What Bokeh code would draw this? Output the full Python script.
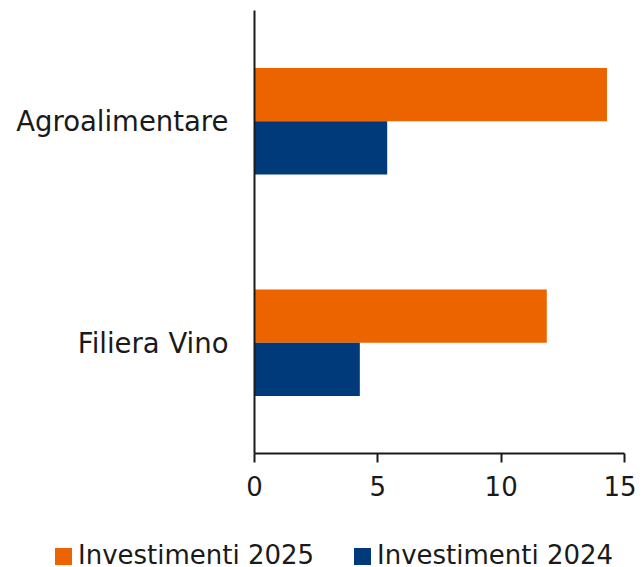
from bokeh.plotting import figure
from bokeh.models import ColumnDataSource, FactorRange, Range1d, Div
from bokeh.layouts import column
from bokeh.transform import dodge
from bokeh.embed import file_html
from bokeh.resources import INLINE

categories = ["Filiera Vino", "Agroalimentare"]
inv_2025 = [11.85, 14.29]
inv_2024 = [4.27, 5.38]
series_labels = ["Investimenti 2025", "Investimenti 2024"]
x_ticks = [0, 5, 10, 15]

ORANGE = "#EC6400"
BLUE = "#003A7A"
FONT = "DejaVu Sans"
FS = "26px"

src = ColumnDataSource(dict(cat=categories, v25=inv_2025, v24=inv_2024))

p = figure(
    y_range=FactorRange(factors=categories),
    x_range=Range1d(0, 15),
    frame_width=370, frame_height=443,
    min_border_left=254, min_border_right=12,
    min_border_top=10, min_border_bottom=64,
    output_backend="svg", toolbar_location=None,
)
p.outline_line_color = None
p.background_fill_color = "white"
p.grid.visible = False

p.hbar(y=dodge("cat", 0.12, range=p.y_range), right="v25", left=0, height=0.24,
       source=src, fill_color=ORANGE, line_color=None)
p.hbar(y=dodge("cat", -0.12, range=p.y_range), right="v24", left=0, height=0.24,
       source=src, fill_color=BLUE, line_color=None)

xa = p.xaxis[0]
xa.ticker = x_ticks
xa.axis_line_width = 2
xa.axis_line_color = "#1a1a1a"
xa.major_tick_line_width = 2
xa.major_tick_line_color = "#1a1a1a"
xa.major_tick_out = 9
xa.major_tick_in = 0
xa.minor_tick_line_color = None
xa.major_label_text_font = FONT
xa.major_label_text_font_size = FS
xa.major_label_text_color = "#1a1a1a"
xa.major_label_standoff = 13

ya = p.yaxis[0]
ya.axis_line_width = 2
ya.axis_line_color = "#1a1a1a"
ya.major_tick_line_color = None
ya.major_tick_out = 0
ya.major_tick_in = 0
ya.minor_tick_line_color = None
ya.major_label_text_font = FONT
ya.major_label_text_font_size = "27.5px"
ya.major_label_text_color = "#1a1a1a"
ya.major_label_standoff = 26

# legend strip below the chart (horizontal legend)
legend_colors = [ORANGE, BLUE]
item_left = [55, 354]
parts = []
for lab, col, x0 in zip(series_labels, legend_colors, item_left):
    parts.append(
        f'<span style="position:absolute;left:{x0}px;top:31px;width:17px;height:17px;'
        f'background:{col};"></span>'
        f'<span style="position:absolute;left:{x0 + 23}px;top:28px;line-height:20px;'
        f'font-family:\'{FONT}\';font-size:{FS};color:#1a1a1a;white-space:nowrap;">{lab}</span>'
    )
html = ('<div style="position:relative;width:636px;height:50px;margin:0;padding:0;">'
        + "".join(parts) + "</div>")
legend_div = Div(text=html, width=636, height=50, margin=0)

open("out.html", "w").write(file_html(column(p, legend_div, spacing=0), INLINE))
